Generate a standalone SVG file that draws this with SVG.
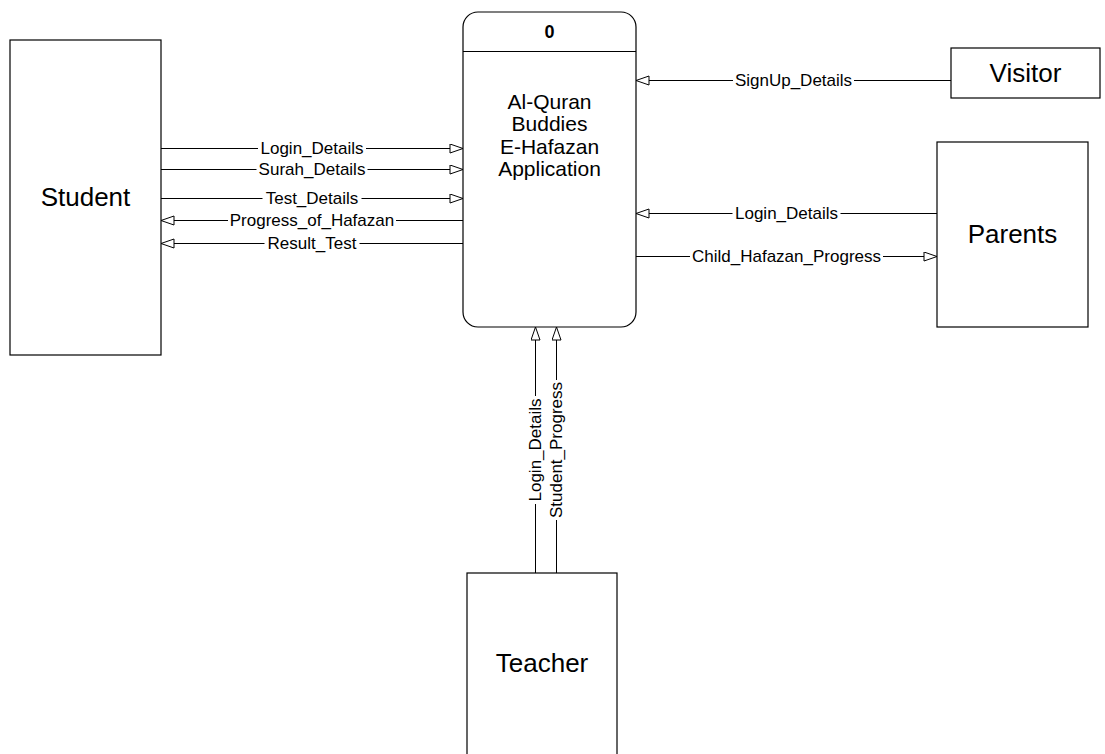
<svg xmlns="http://www.w3.org/2000/svg" width="1105" height="754" viewBox="0 0 1105 754">
<defs>
<marker id="arr" markerUnits="userSpaceOnUse" markerWidth="16" markerHeight="12" refX="14" refY="5" orient="auto">
<path d="M1,0.5 L14,5 L1,9.5 z" fill="#fff" stroke="#000" stroke-width="1"/>
</marker>
</defs>
<style>
.box{fill:#fff;stroke:#000;stroke-width:1.2}
.ent{font-family:"Liberation Sans",Arial,sans-serif;font-size:26px;fill:#000;text-anchor:middle;dominant-baseline:central}
.proc{font-family:"Liberation Sans",Arial,sans-serif;font-size:21px;fill:#000;text-anchor:middle;dominant-baseline:central}
.lbl{font-family:"Liberation Sans",Arial,sans-serif;font-size:17px;fill:#000;text-anchor:middle;dominant-baseline:central}
.ln{stroke:#000;stroke-width:1;fill:none;marker-end:url(#arr)}
.bg{fill:#fff}
</style>
<rect width="1105" height="754" fill="#fff"/>
<g id="student">
<rect class="box" x="10" y="40" width="151" height="315"/>
<text class="ent" x="85.5" y="197">Student</text>
</g>
<g id="process">
<rect class="box" x="463" y="12" width="173" height="315" rx="15" ry="15"/>
<line x1="463" y1="51.5" x2="636" y2="51.5" stroke="#000" stroke-width="1.2"/>
<text class="lbl" x="549.5" y="32" font-weight="bold" style="font-size:18px">0</text>
<text class="proc" x="549.5" y="101">Al-Quran</text>
<text class="proc" x="549.5" y="123">Buddies</text>
<text class="proc" x="549.5" y="146">E-Hafazan</text>
<text class="proc" x="549.5" y="168">Application</text>
</g>
<g id="visitor">
<rect class="box" x="951" y="48" width="149" height="50"/>
<text class="ent" x="1025.5" y="73">Visitor</text>
</g>
<g id="parents">
<rect class="box" x="937" y="142" width="151" height="185"/>
<text class="ent" x="1012.5" y="234">Parents</text>
</g>
<g id="teacher">
<rect class="box" x="467" y="573" width="150" height="200"/>
<text class="ent" x="542" y="663">Teacher</text>
</g>
<g id="connectors">
<line class="ln" x1="161" y1="148.5" x2="463" y2="148.5"/>
<rect class="bg" x="258" y="140" width="108" height="17"/>
<text class="lbl" x="312" y="148.5">Login_Details</text>
<line class="ln" x1="161" y1="169.5" x2="463" y2="169.5"/>
<rect class="bg" x="256.5" y="161" width="111" height="17"/>
<text class="lbl" x="312" y="169.5">Surah_Details</text>
<line class="ln" x1="161" y1="198.5" x2="463" y2="198.5"/>
<rect class="bg" x="262.5" y="190" width="99" height="17"/>
<text class="lbl" x="312" y="198.5">Test_Details</text>
<line class="ln" x1="463" y1="220.5" x2="161" y2="220.5"/>
<rect class="bg" x="228" y="212" width="168" height="17"/>
<text class="lbl" x="312" y="220.5">Progress_of_Hafazan</text>
<line class="ln" x1="463" y1="243.5" x2="161" y2="243.5"/>
<rect class="bg" x="264.5" y="235" width="95" height="17"/>
<text class="lbl" x="312" y="243.5">Result_Test</text>
<line class="ln" x1="951" y1="80.5" x2="636" y2="80.5"/>
<rect class="bg" x="733" y="72" width="121" height="17"/>
<text class="lbl" x="793.5" y="80.5">SignUp_Details</text>
<line class="ln" x1="937" y1="213.5" x2="636" y2="213.5"/>
<rect class="bg" x="732.5" y="205" width="108" height="17"/>
<text class="lbl" x="786.5" y="213.5">Login_Details</text>
<line class="ln" x1="636" y1="256.5" x2="937" y2="256.5"/>
<rect class="bg" x="690" y="248" width="193" height="17"/>
<text class="lbl" x="786.5" y="256.5">Child_Hafazan_Progress</text>
<line class="ln" x1="535.5" y1="573" x2="535.5" y2="327"/>
<rect class="bg" x="527" y="396" width="17" height="108"/>
<text class="lbl" transform="translate(535.5,450) rotate(-90)" x="0" y="0">Login_Details</text>
<line class="ln" x1="556.5" y1="573" x2="556.5" y2="327"/>
<rect class="bg" x="548" y="380" width="17" height="140"/>
<text class="lbl" transform="translate(556.5,450) rotate(-90)" x="0" y="0">Student_Progress</text>
</g>
</svg>
